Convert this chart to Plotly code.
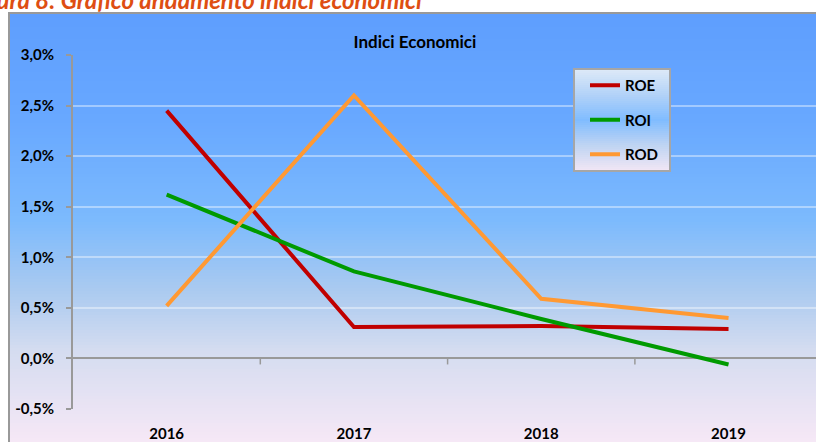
import plotly.graph_objects as go

# ---------------- data ----------------
years = ["2016", "2017", "2018", "2019"]
roe = [0.0245, 0.0031, 0.0032, 0.0029]
roi = [0.0162, 0.0086, 0.0039, -0.0006]
rod = [0.0052, 0.0260, 0.0059, 0.0040]
series_names = ["ROE", "ROI", "ROD"]
series_colors = ["#c00000", "#009a00", "#ff9933"]
y_ticks = [-0.005, 0.0, 0.005, 0.01, 0.015, 0.02, 0.025, 0.03]

W, H = 816, 442
L, R, T, B = 73, 0, 55, 33
PW, PH = W - L - R, H - T - B


def px2x(px):
    return (px - L) / PW


def px2y(py):
    return (H - B - py) / PH


def lerp_color(stops, p):
    for (p0, c0), (p1, c1) in zip(stops, stops[1:]):
        if p0 <= p <= p1:
            f = (p - p0) / (p1 - p0) if p1 > p0 else 0
            c = [round(a + (b - a) * f) for a, b in zip(c0, c1)]
            return "rgb(%d,%d,%d)" % tuple(c)
    c = stops[-1][1] if p > stops[-1][0] else stops[0][1]
    return "rgb(%d,%d,%d)" % tuple(c)


shapes = []

# chart-area gradient background
bg_stops = [
    (12, (94, 158, 254)),
    (120, (104, 168, 255)),
    (220, (124, 186, 253)),
    (290, (170, 202, 240)),
    (350, (212, 220, 240)),
    (442, (246, 232, 246)),
]
step = 3
y = 12
while y < H:
    shapes.append(dict(type="rect", xref="paper", yref="paper", layer="below",
                       x0=px2x(8), x1=px2x(W + 2), y0=px2y(y + step + 0.5), y1=px2y(y),
                       line=dict(width=0), fillcolor=lerp_color(bg_stops, y + step / 2)))
    y += step
# chart-area border
shapes.append(dict(type="rect", xref="paper", yref="paper", layer="below",
                   x0=px2x(9), x1=px2x(W + 10), y0=px2y(H + 10), y1=px2y(13),
                   line=dict(width=2, color="#999999"), fillcolor="rgba(0,0,0,0)"))

# legend box gradient
lg_x0, lg_x1, lg_y0, lg_y1 = 574, 670, 69, 171
lg_stops = [
    (69, (222, 234, 248)),
    (95, (178, 210, 248)),
    (120, (128, 188, 255)),
    (145, (190, 212, 242)),
    (171, (242, 230, 245)),
]
y = lg_y0
while y < lg_y1:
    y2 = min(y + 2, lg_y1)
    shapes.append(dict(type="rect", xref="paper", yref="paper", layer="above",
                       x0=px2x(lg_x0), x1=px2x(lg_x1), y0=px2y(y2 + 0.3), y1=px2y(y),
                       line=dict(width=0), fillcolor=lerp_color(lg_stops, y + 1)))
    y = y2
shapes.append(dict(type="rect", xref="paper", yref="paper", layer="above",
                   x0=px2x(lg_x0), x1=px2x(lg_x1), y0=px2y(lg_y1), y1=px2y(lg_y0),
                   line=dict(width=2, color="#a6a6a6"), fillcolor="rgba(0,0,0,0)"))

# category-boundary tick marks on the zero line
for i in range(len(years) - 1):
    shapes.append(dict(type="line", xref="x", yref="y", ysizemode="pixel", yanchor=0,
                       x0=i + 0.5, x1=i + 0.5, y0=0, y1=-6,
                       line=dict(width=1.5, color="#999999")))

fig = go.Figure()
for name, vals, col in zip(series_names, [roe, roi, rod], series_colors):
    fig.add_trace(go.Scatter(x=years, y=vals, name="<b>%s</b>" % name, mode="lines",
                             legendgroup=name,
                             line=dict(color=col, width=4)))

fig.update_layout(
    width=W, height=H,
    margin=dict(l=L, r=R, t=T, b=B),
    paper_bgcolor="white",
    plot_bgcolor="rgba(0,0,0,0)",
    font=dict(family="Lato", color="black"),
    title=dict(text="<b>Indici Economici</b>", x=415 / W, xanchor="center",
               y=1 - 42 / H, yanchor="middle", font=dict(size=17, color="black")),
    showlegend=True,
    legend=dict(x=px2x(585), y=px2y(69), xanchor="left", yanchor="top",
                bgcolor="rgba(0,0,0,0)", borderwidth=0,
                tracegroupgap=12, traceorder="grouped",
                font=dict(size=15, color="black", family="Lato")),
    shapes=shapes,
    xaxis=dict(type="category", range=[-0.5, 3.467], showgrid=False, showline=False,
               zeroline=False, ticks="", ticklabelstandoff=14,
               tickfont=dict(size=15, family="Lato", color="black"),
               tickvals=years, ticktext=["<b>%s</b>" % yv for yv in years]),
    yaxis=dict(range=[-0.005, 0.03], tickvals=y_ticks,
               ticktext=["<b>%s</b>" % ("%.1f%%" % (v * 100)).replace(".", ",") for v in y_ticks],
               showgrid=True, gridcolor="rgba(255,255,255,0.4)", gridwidth=2,
               zeroline=True, zerolinecolor="#999999", zerolinewidth=2,
               showline=True, linecolor="#999999", linewidth=2,
               ticks="outside", ticklen=5, tickcolor="#999999", tickwidth=1.5,
               ticklabelstandoff=9,
               tickfont=dict(size=15, family="Lato", color="black")),
    annotations=[dict(text="<b><i>Figura 8: Grafico andamento indici economici</i></b>",
                      xref="paper", yref="paper", x=px2x(424), y=px2y(16),
                      xanchor="right", yanchor="bottom", showarrow=False,
                      font=dict(size=24, family="Lato", color="#de4e12"))],
)

fig.write_html("out.html", config={"displayModeBar": False},
               post_script="document.body.style.margin='0';")
